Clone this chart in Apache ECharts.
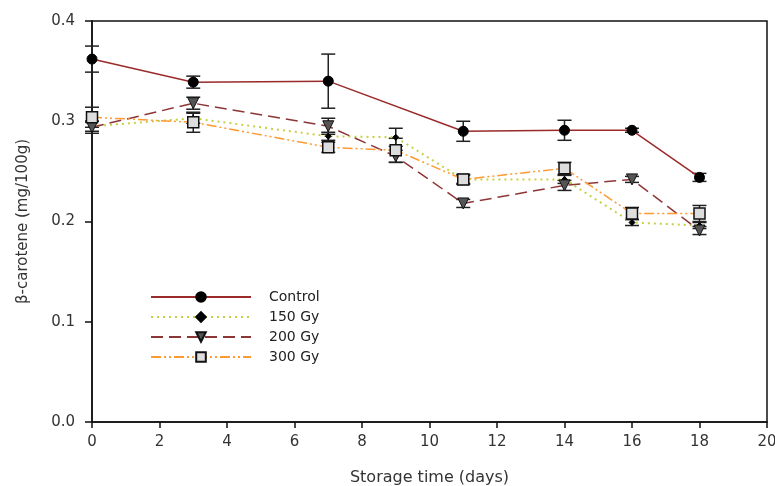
<!DOCTYPE html>
<html><head><meta charset="utf-8">
<script src="https://cdn.jsdelivr.net/npm/echarts@6/dist/echarts.min.js"></script>
<style>html,body{margin:0;padding:0;background:#fff}#c{width:775px;height:486px}</style>
</head><body><div id="c"></div>
<script>
// β-carotene content over storage time, means with error bars
const controlDays = [0, 3, 7, 11, 14, 16, 18];
const controlMean = [0.362, 0.339, 0.340, 0.290, 0.291, 0.291, 0.244];
const controlErr  = [0.013, 0.006, 0.027, 0.010, 0.010, 0.002, 0.004];

const irrDays = [0, 3, 7, 9, 11, 14, 16, 18];
const gy150Mean = [0.295, 0.303, 0.285, 0.284, 0.242, 0.242, 0.199, 0.196];
const gy150Err  = [0.005, 0.005, 0.004, 0.009, 0.004, 0.004, 0.003, 0.003];
const gy200Mean = [0.294, 0.318, 0.295, 0.265, 0.218, 0.236, 0.242, 0.191];
const gy200Err  = [0.006, 0.006, 0.008, 0.006, 0.004, 0.005, 0.003, 0.004];
const gy300Mean = [0.304, 0.299, 0.274, 0.271, 0.242, 0.253, 0.208, 0.208];
const gy300Err  = [0.010, 0.010, 0.005, 0.012, 0.005, 0.006, 0.006, 0.008];

const seriesNames = ['Control', '150 Gy', '200 Gy', '300 Gy'];
const xTicks = [0, 20, 2];
const yTicks = [0, 0.4, 0.1];

const FONT = 'DejaVu Sans';
const TXT = '#333';

function pts(days, vals) { return days.map((d, i) => [d, vals[i]]); }
function errPts(days, vals, errs) { return days.map((d, i) => [d, vals[i] - errs[i], vals[i] + errs[i]]); }

function errRender(params, api) {
  const x = api.value(0);
  const lo = api.coord([x, api.value(1)]);
  const hi = api.coord([x, api.value(2)]);
  const w = 7;
  const style = { stroke: '#222', lineWidth: 1.5 };
  return {
    type: 'group',
    children: [
      { type: 'line', shape: { x1: lo[0], y1: lo[1], x2: hi[0], y2: hi[1] }, style },
      { type: 'line', shape: { x1: lo[0] - w, y1: lo[1], x2: lo[0] + w, y2: lo[1] }, style },
      { type: 'line', shape: { x1: hi[0] - w, y1: hi[1], x2: hi[0] + w, y2: hi[1] }, style }
    ]
  };
}

function errSeries(days, vals, errs) {
  return {
    type: 'custom', renderItem: errRender, z: 1, silent: true,
    encode: { x: 0, y: [1, 2] },
    data: errPts(days, vals, errs)
  };
}

const chart = echarts.init(document.getElementById('c'), null, { renderer: 'canvas' });
chart.setOption({
  animation: false,
  backgroundColor: '#fff',
  textStyle: { fontFamily: FONT, color: TXT },
  grid: {
    left: 92, top: 21, right: 8, bottom: 64,
    outerBoundsMode: 'none', containLabel: false,
    show: true, borderColor: '#111', borderWidth: 1.5
  },
  legend: {
    data: seriesNames,
    orient: 'vertical',
    left: 145, top: 285,
    itemWidth: 100, itemHeight: 12, itemGap: 6,
    textStyle: { fontFamily: FONT, fontSize: 14, color: '#222', padding: [0, 0, 0, 13] }
  },
  xAxis: {
    type: 'value', min: xTicks[0], max: xTicks[1], interval: xTicks[2],
    name: 'Storage time (days)', nameLocation: 'middle', nameGap: 48,
    nameTextStyle: { fontFamily: FONT, fontSize: 16, color: TXT },
    axisLine: { lineStyle: { color: '#111', width: 1.5 } },
    axisTick: { length: 6, lineStyle: { color: '#111', width: 1.5 } },
    axisLabel: { fontFamily: FONT, fontSize: 15, color: TXT, margin: 13 },
    splitLine: { show: false }
  },
  yAxis: {
    type: 'value', min: yTicks[0], max: yTicks[1], interval: yTicks[2],
    name: 'β-carotene (mg/100g)', nameLocation: 'middle', nameGap: 61,
    nameTextStyle: { fontFamily: FONT, fontSize: 15, color: TXT },
    axisLine: { lineStyle: { color: '#111', width: 1.5 } },
    axisTick: { length: 7, lineStyle: { color: '#111', width: 1.5 } },
    axisLabel: { fontFamily: FONT, fontSize: 15, color: TXT, margin: 17, formatter: v => v.toFixed(1) },
    splitLine: { show: false }
  },
  series: [
    errSeries(controlDays, controlMean, controlErr),
    errSeries(irrDays, gy150Mean, gy150Err),
    errSeries(irrDays, gy200Mean, gy200Err),
    errSeries(irrDays, gy300Mean, gy300Err),
    {
      name: seriesNames[0], type: 'line', z: 5,
      data: pts(controlDays, controlMean),
      symbol: 'circle', symbolSize: 10,
      lineStyle: { color: '#9b2a2a', width: 1.5 },
      itemStyle: { color: '#000', borderColor: '#000', borderWidth: 1 }
    },
    {
      name: seriesNames[1], type: 'line', z: 4,
      data: pts(irrDays, gy150Mean),
      symbol: 'diamond', symbolSize: 6,
      lineStyle: { color: '#c6d044', width: 2, type: [2, 4] },
      itemStyle: { color: '#000', borderColor: '#000', borderWidth: 1 }
    },
    {
      name: seriesNames[2], type: 'line', z: 4,
      data: pts(irrDays, gy200Mean),
      symbol: 'triangle', symbolRotate: 180, symbolSize: 11,
      lineStyle: { color: '#8e3636', width: 1.5, type: [12, 6] },
      itemStyle: { color: '#555', borderColor: '#111', borderWidth: 1 }
    },
    {
      name: seriesNames[3], type: 'line', z: 4,
      data: pts(irrDays, gy300Mean),
      symbol: 'rect', symbolSize: 11,
      lineStyle: { color: '#ff9a33', width: 1.5, type: [10, 3, 2, 3, 2, 3] },
      itemStyle: { color: '#ddd', borderColor: '#111', borderWidth: 1.5 }
    }
  ]
});
</script></body></html>
